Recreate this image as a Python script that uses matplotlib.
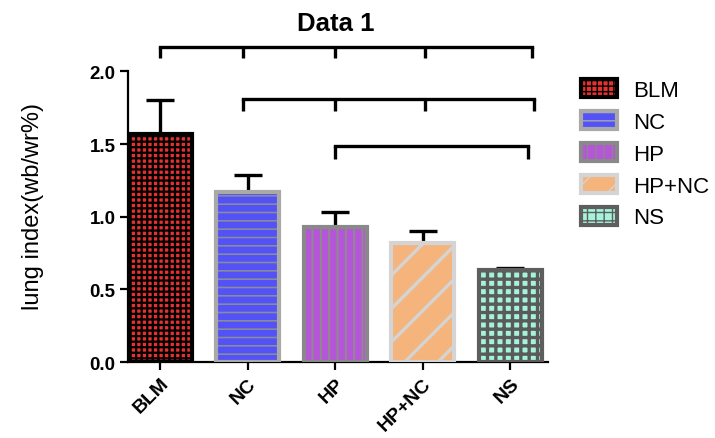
import numpy as np
import matplotlib
matplotlib.use("Agg")
import matplotlib.pyplot as plt
from matplotlib.patches import Patch

plt.rcParams['font.family'] = ['Liberation Sans', 'DejaVu Sans']

groups = ['BLM', 'NC', 'HP', 'HP+NC', 'NS']
means = [1.57, 1.17, 0.93, 0.82, 0.63]
errs = [0.23, 0.12, 0.10, 0.08, 0.02]

fills = ['#e8302e', '#5252f7', '#b655d8', '#f4b47c', '#a4f3da']
hatch_cols = ['#000000', '#8a8a9a', '#8c8c8c', '#d4d4d4', '#5a5a5a']
edges = ['#000000', '#a9a9a9', '#898989', '#d4d4d4', '#5e5e5e']
hatches = ['+++', '--', '||', '/', '++']
hatch_lw = [1.6, 1.2, 1.4, 2.4, 2.4]

# significance brackets: (x positions of drop ticks, bar height, tick bottom)
brackets = [
    ([0.0, 0.95, 2.0, 3.02, 4.25], 2.17, 2.09),
    ([0.95, 2.0, 3.02, 4.27], 1.81, 1.73),
    ([2.0, 4.2], 1.485, 1.40),
]

fig = plt.figure(figsize=(7.15, 4.39), dpi=100)
ax = fig.add_axes([0.179, 0.173, 0.5874, 0.745])

x = np.arange(len(groups))
w = 0.72
for i in range(len(groups)):
    b = ax.bar(x[i], means[i], w, color=fills[i], edgecolor=hatch_cols[i],
               hatch=hatches[i], linewidth=0, zorder=2)
    for p in b:
        if hasattr(p, 'set_hatch_linewidth'):
            p.set_hatch_linewidth(hatch_lw[i])
    ax.bar(x[i], means[i], w, fill=False, edgecolor=edges[i], linewidth=3, zorder=3)

ax.errorbar(x, means, yerr=[np.zeros(len(errs)), errs], fmt='none', ecolor='black',
            elinewidth=2.4, capsize=10, capthick=2.4, zorder=1)

for xs, top, bot in brackets:
    ax.plot([xs[0], xs[-1]], [top, top], color='black', lw=2.4, solid_capstyle='projecting', clip_on=False)
    for xv in xs:
        ax.plot([xv, xv], [top, bot], color='black', lw=2.4, solid_capstyle='butt', clip_on=False)

ax.set_xlim(-0.37, 4.43)
ax.set_ylim(0, 2.25)
ax.spines['top'].set_visible(False)
ax.spines['right'].set_visible(False)
ax.spines['left'].set_bounds(0, 2.0)
ax.spines['left'].set_linewidth(1.6)
ax.spines['bottom'].set_linewidth(1.6)
ax.set_yticks([0, 0.5, 1.0, 1.5, 2.0])
ax.set_yticklabels(['0.0', '0.5', '1.0', '1.5', '2.0'], fontweight='bold', fontsize=13.5)
ax.set_xticks(x)
ax.set_xticklabels(groups, rotation=45, ha='right', rotation_mode='anchor',
                   fontweight='bold', fontsize=14)
ax.tick_params(axis='both', width=1.6, length=5.5, direction='out')
ax.set_ylabel('lung index(wb/wr%)', fontsize=17)
ax.yaxis.set_label_coords(-0.2, 0.48)

fig.text(336 / 715, 1 - 24 / 439, 'Data 1', fontsize=18.5, fontweight='bold', ha='center', va='center')

handles = []
for i in range(len(groups)):
    handles.append(Patch(facecolor=fills[i], edgecolor=hatch_cols[i], hatch=hatches[i],
                         linewidth=3, label=groups[i]))
leg = fig.legend(handles=handles, loc='upper left', bbox_to_anchor=(581 / 715, 1 - 80 / 439),
                 frameon=False, fontsize=16, handlelength=1.62, handleheight=0.9,
                 handletextpad=0.72, labelspacing=0.45, borderpad=0, borderaxespad=0)
for p, e in zip(leg.get_patches(), edges):
    p.set_edgecolor(e)

fig.savefig('out.png', dpi=100)
